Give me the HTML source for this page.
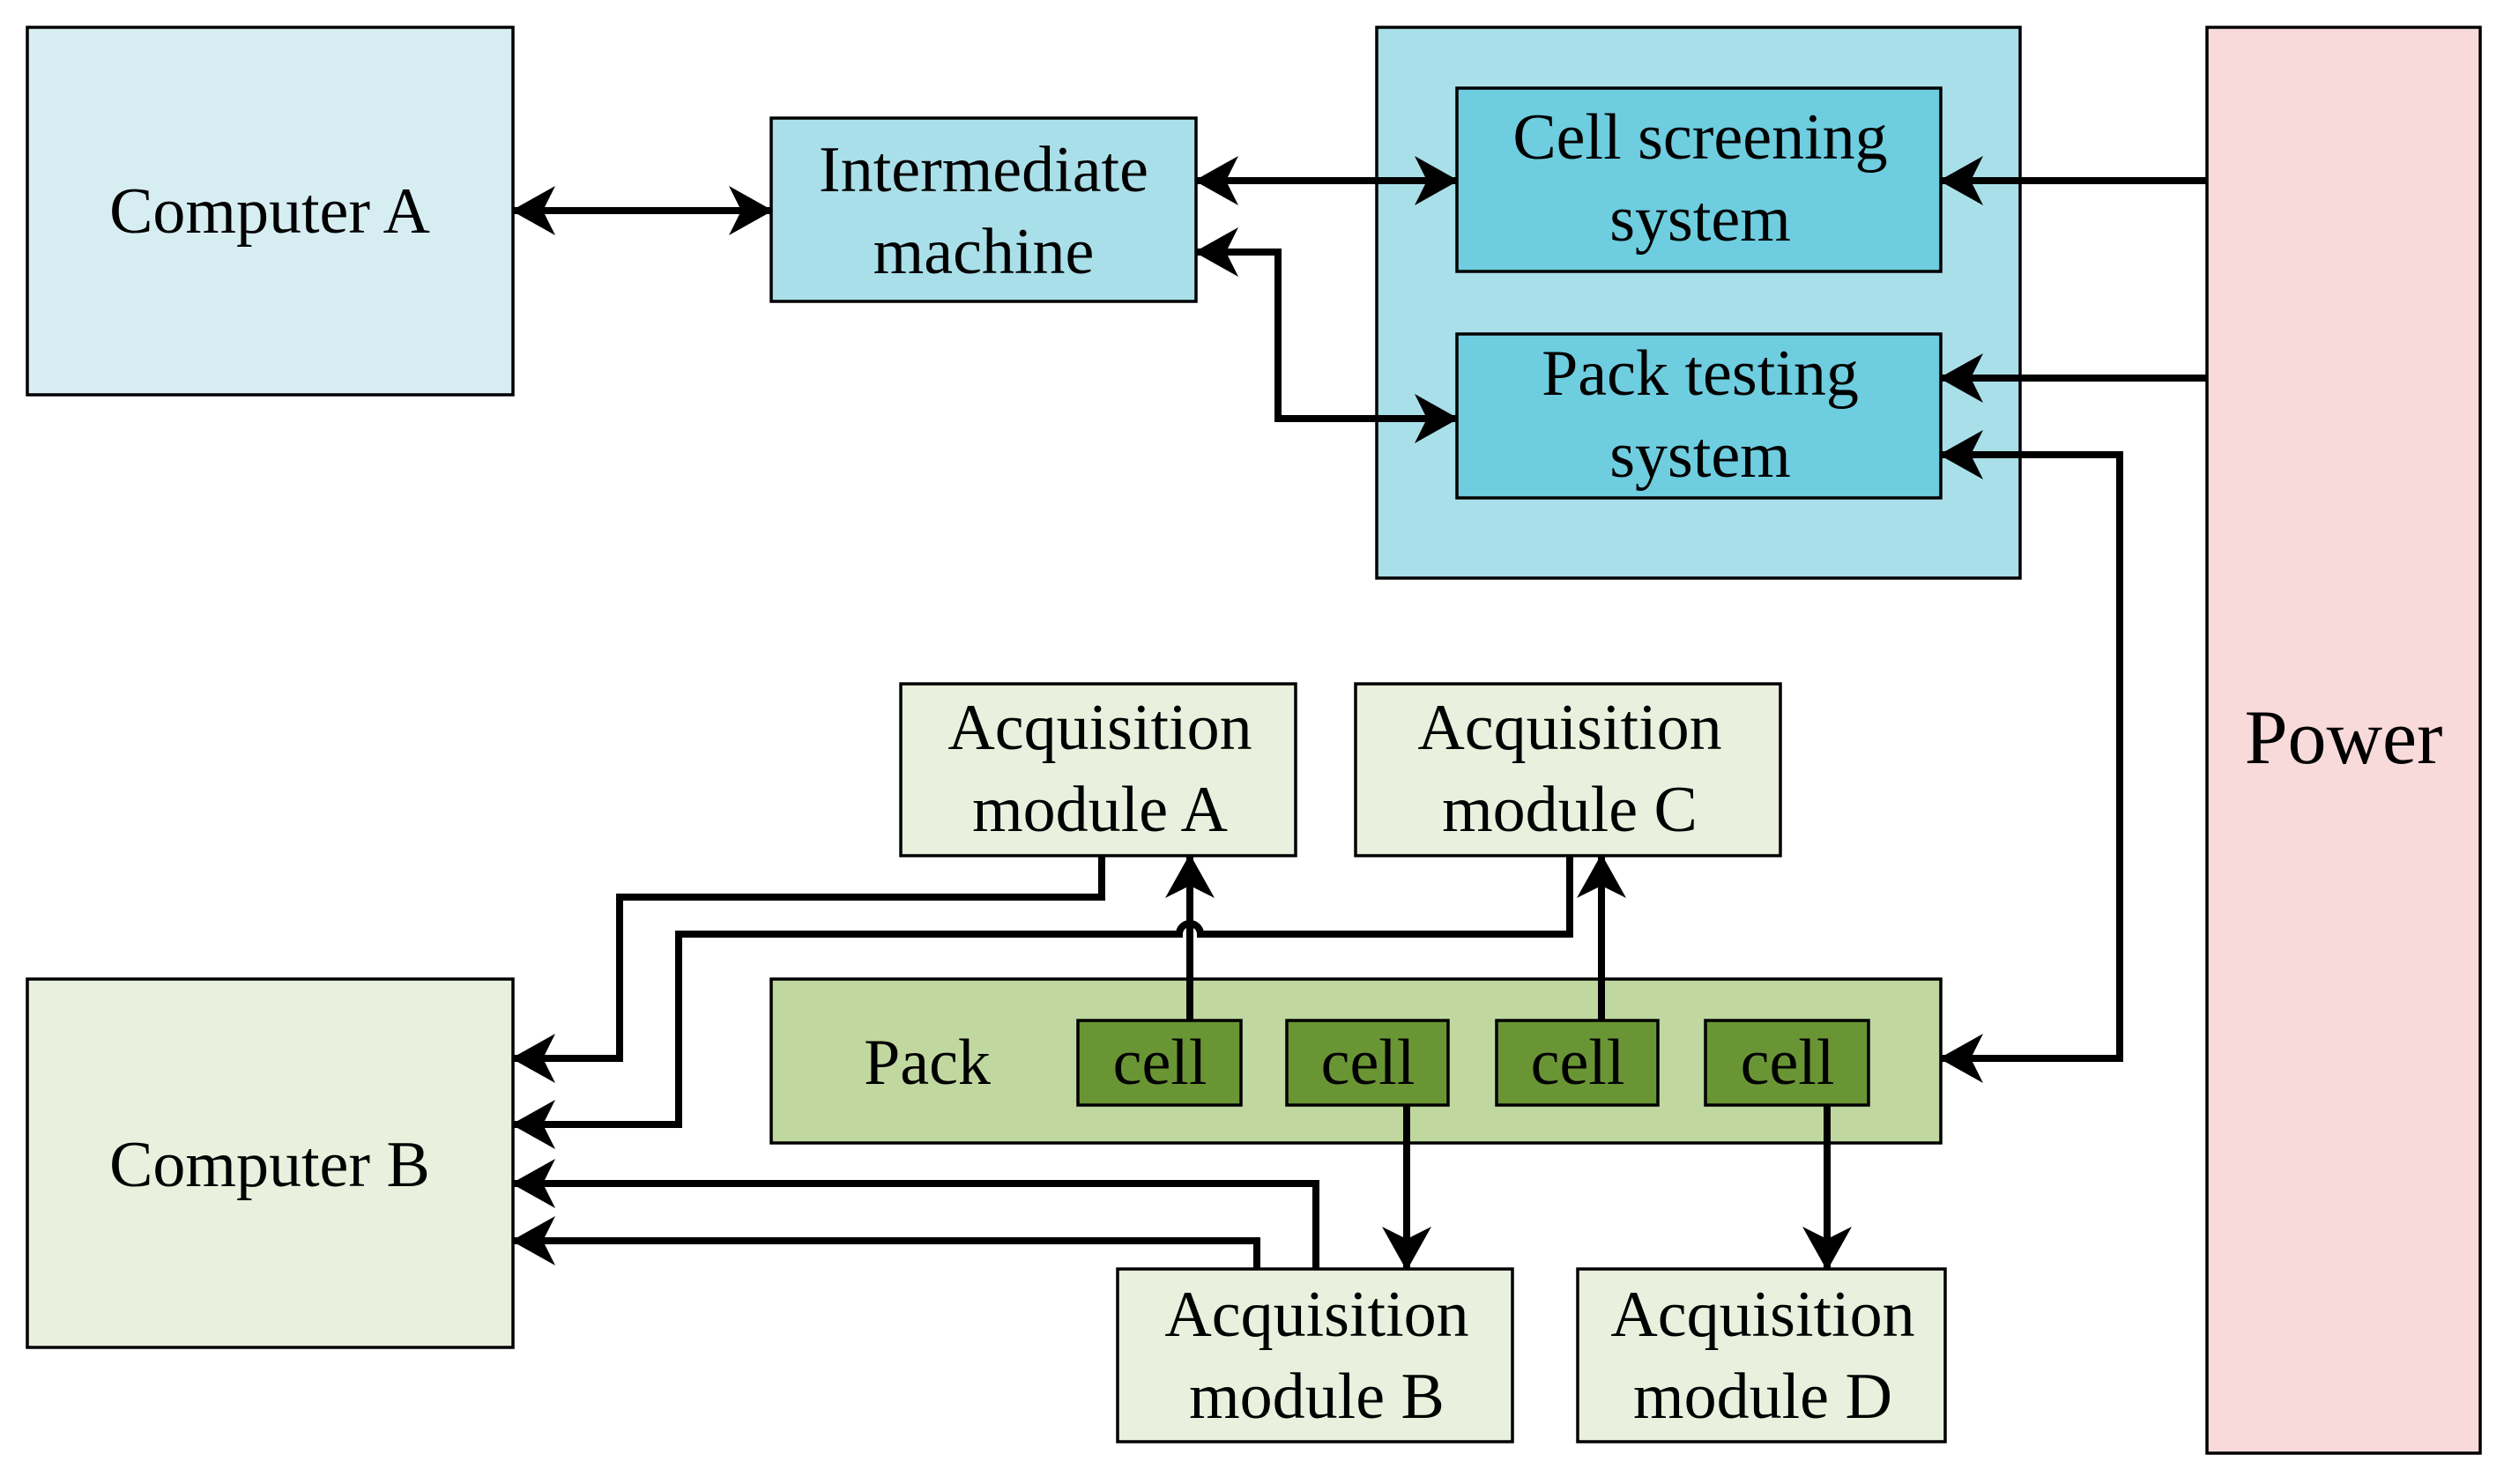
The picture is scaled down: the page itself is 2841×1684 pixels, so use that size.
<!DOCTYPE html>
<html><head><meta charset="utf-8"><style>
html,body{margin:0;padding:0;background:#fff;}
svg{display:block;}
text{font-family:"Liberation Serif",serif;fill:#000;text-anchor:middle;}
</style></head><body>
<svg width="2841" height="1684" viewBox="0 0 2841 1684" xmlns="http://www.w3.org/2000/svg">
<defs>
<marker id="a" markerUnits="userSpaceOnUse" markerWidth="56" markerHeight="64" refX="48" refY="32" orient="auto-start-reverse">
<path d="M0,4 L50,32 L0,60 L14,32 Z" fill="#000"/>
</marker>
</defs>
<g stroke="#000" stroke-width="3.5">
<rect x="31" y="31" width="551" height="417" fill="#d6eef2"/>
<rect x="875" y="134" width="482" height="208" fill="#a9dfe9"/>
<rect x="1562" y="31" width="730" height="625" fill="#a9dfe9"/>
<rect x="1653" y="100" width="549" height="208" fill="#6ecddf"/>
<rect x="1653" y="379" width="549" height="186" fill="#6ecddf"/>
<rect x="2504" y="31" width="310" height="1618" fill="#f8dada"/>
<rect x="1022" y="776" width="448" height="195" fill="#e9f0dd"/>
<rect x="1538" y="776" width="482" height="195" fill="#e9f0dd"/>
<rect x="31" y="1111" width="551" height="418" fill="#e9f0dd"/>
<rect x="875" y="1111" width="1327" height="186" fill="#c0d8a0"/>
<rect x="1223" y="1158" width="185" height="96" fill="#6a9535"/>
<rect x="1460" y="1158" width="183" height="96" fill="#6a9535"/>
<rect x="1698" y="1158" width="183" height="96" fill="#6a9535"/>
<rect x="1935" y="1158" width="185" height="96" fill="#6a9535"/>
<rect x="1268" y="1440" width="448" height="196" fill="#e9f0dd"/>
<rect x="1790" y="1440" width="417" height="196" fill="#e9f0dd"/>
</g>
<g stroke="#000" stroke-width="8" fill="none">
<line x1="582" y1="239" x2="875" y2="239" marker-start="url(#a)" marker-end="url(#a)"/>
<line x1="1357" y1="205" x2="1653" y2="205" marker-start="url(#a)" marker-end="url(#a)"/>
<polyline points="1357,286 1450,286 1450,475 1653,475" marker-start="url(#a)" marker-end="url(#a)"/>
<line x1="2504" y1="205" x2="2202" y2="205" marker-end="url(#a)"/>
<line x1="2504" y1="429" x2="2202" y2="429" marker-end="url(#a)"/>
<polyline points="2202,516 2405,516 2405,1201 2202,1201" marker-start="url(#a)" marker-end="url(#a)"/>
<polyline points="1250,971 1250,1018 703,1018 703,1201 582,1201" marker-end="url(#a)"/>
<path d="M1781,971 L1781,1060 L1362,1060 A12,12 0 0 0 1338,1060 L770,1060 L770,1276 L582,1276" marker-end="url(#a)"/>
<line x1="1350" y1="1158" x2="1350" y2="971" marker-end="url(#a)"/>
<line x1="1817" y1="1158" x2="1817" y2="971" marker-end="url(#a)"/>
<line x1="1596" y1="1254" x2="1596" y2="1440" marker-end="url(#a)"/>
<line x1="2073" y1="1254" x2="2073" y2="1440" marker-end="url(#a)"/>
<polyline points="1493,1440 1493,1343 582,1343" marker-end="url(#a)"/>
<polyline points="1426,1440 1426,1408 582,1408" marker-end="url(#a)"/>
</g>
<g font-size="74">
<text x="306" y="264">Computer A</text>
<text x="1116" y="217">Intermediate</text>
<text x="1116" y="310">machine</text>
<text x="1929" y="180">Cell screening</text>
<text x="1929" y="273">system</text>
<text x="1929" y="448">Pack testing</text>
<text x="1929" y="541">system</text>
<text x="2659" y="866" font-size="88">Power</text>
<text x="1248" y="850">Acquisition</text>
<text x="1248" y="943">module A</text>
<text x="1781" y="850">Acquisition</text>
<text x="1781" y="943">module C</text>
<text x="306" y="1346">Computer B</text>
<text x="1052" y="1230">Pack</text>
<text x="1316" y="1230">cell</text>
<text x="1552" y="1230">cell</text>
<text x="1790" y="1230">cell</text>
<text x="2028" y="1230">cell</text>
<text x="1494" y="1516">Acquisition</text>
<text x="1494" y="1609">module B</text>
<text x="2000" y="1516">Acquisition</text>
<text x="2000" y="1609">module D</text>
</g>
</svg>
</body></html>
